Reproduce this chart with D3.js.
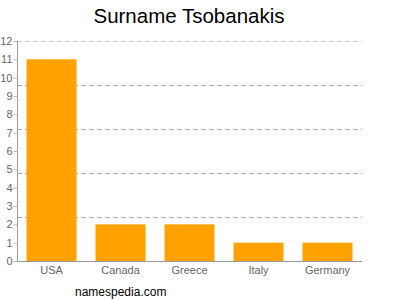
<!DOCTYPE html>
<html>
<head>
<meta charset="utf-8">
<script src="https://cdn.jsdelivr.net/npm/d3@7"></script>
<style>
  body { margin: 0; background: #fff; }
  text { font-family: "Liberation Sans", Arial, sans-serif; }
</style>
</head>
<body>
<div id="container"></div>
<script>
/* DATA */
const countries = ["USA", "Canada", "Greece", "Italy", "Germany"];
const counts = [11, 2, 2, 1, 1];
const yTicks = [0, 1, 2, 3, 4, 5, 6, 7, 8, 9, 10, 11, 12];
const gridValues = [2.4, 4.8, 7.2, 9.6, 12];

/* CONSTANTS */
const width = 400;
const height = 300;
const plotLeft = 17, plotRight = 362, plotTop = 41, plotBottom = 261;

const data = countries.map((c, i) => ({ country: c, count: counts[i] }));

const svg = d3.select("#container")
  .append("svg")
  .attr("width", width)
  .attr("height", height);

/* SCALES */
const xScale = d3.scaleBand()
  .domain(countries)
  .range([plotLeft, plotRight])
  .paddingInner(0.275)
  .paddingOuter(0.1375);

const yScale = d3.scaleLinear()
  .domain([0, 12])
  .range([plotBottom, plotTop]);

// grid lines
svg.selectAll("line.grid")
  .data(gridValues)
  .join("line")
  .attr("class", "grid")
  .attr("x1", plotLeft)
  .attr("x2", plotRight)
  .attr("y1", d => Math.round(yScale(d)) + 0.5)
  .attr("y2", d => Math.round(yScale(d)) + 0.5)
  .attr("stroke", d => d === 12 ? "#ccc" : "#aaa")
  .attr("stroke-dasharray", "5,3");

// bars
svg.selectAll("rect.bar")
  .data(data)
  .join("rect")
  .attr("class", "bar")
  .attr("x", d => xScale(d.country))
  .attr("y", d => yScale(d.count))
  .attr("width", xScale.bandwidth())
  .attr("height", d => yScale(0) - yScale(d.count))
  .attr("fill", "#ffa200");

// y axis
const yAxis = svg.append("g")
  .attr("transform", `translate(${plotLeft + 0.5},0)`)
  .call(d3.axisLeft(yScale).tickValues(yTicks).tickSize(4).tickPadding(1).tickFormat(d3.format("d")));
yAxis.select(".domain").attr("stroke", "#999").attr("d", `M0,${plotTop}V${plotBottom}`);
yAxis.selectAll(".tick line").attr("stroke", "#bbb");
yAxis.selectAll(".tick text").attr("fill", "#666").style("font-size", "11px");

// x axis
const xAxis = svg.append("g")
  .attr("transform", `translate(0,${plotBottom + 0.5})`)
  .call(d3.axisBottom(xScale).tickSize(0).tickPadding(5));
xAxis.select(".domain").attr("stroke", "#999").attr("d", `M${plotLeft},0H${plotRight}`);
xAxis.selectAll(".tick text").attr("fill", "#666").style("font-size", "11px");

// title
svg.append("text")
  .attr("x", 189)
  .attr("y", 23)
  .attr("text-anchor", "middle")
  .style("font-size", "20.5px")
  .attr("fill", "#000")
  .text("Surname Tsobanakis");

// source
svg.append("text")
  .attr("x", 75)
  .attr("y", 296)
  .style("font-size", "12px")
  .attr("fill", "#000")
  .text("namespedia.com");
</script>
</body>
</html>
